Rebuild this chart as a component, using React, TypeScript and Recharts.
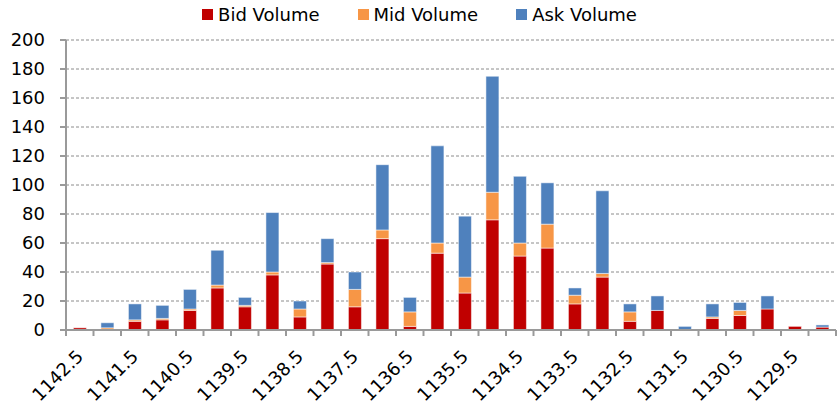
import React from 'react';
import { BarChart, Bar, XAxis, YAxis, CartesianGrid } from 'recharts';

const prices = [
    '1142.5', '1142', '1141.5', '1141', '1140.5', '1140', '1139.5', '1139',
    '1138.5', '1138', '1137.5', '1137', '1136.5', '1136', '1135.5', '1135',
    '1134.5', '1134', '1133.5', '1133', '1132.5', '1132', '1131.5', '1131',
    '1130.5', '1130', '1129.5', '1129',
];
const bidVolume = [1.5, 0, 6, 7, 13.5, 29, 16, 38, 9, 45.5, 16, 63, 2.5, 53, 25.5, 76, 51, 56.5, 18, 36.5, 6, 13.5, 0, 8, 10, 14.5, 2.5, 2];
const midVolume = [0, 1.5, 1, 1, 1, 2, 1, 2, 5.5, 1, 12, 6, 10, 7, 11, 19, 9, 16.5, 6, 2.5, 6.5, 0, 0, 1, 3.5, 0, 0, 0];
const askVolume = [0, 3.5, 11, 9, 13.5, 24, 5.5, 41, 5.5, 16.5, 12, 45, 10, 67, 42, 80, 46, 28.5, 5, 57, 5.5, 10, 2.5, 9, 5.5, 9, 0, 1.5];
const yTicks = [0, 20, 40, 60, 80, 100, 120, 140, 160, 180, 200];

const data = prices.map((label, i) => ({
    label,
    bid: bidVolume[i],
    mid: midVolume[i],
    ask: askVolume[i],
}));

const W = 839;
const H = 405;
const LEFT = 66;
const RIGHT = 3;
const BAND = (W - LEFT - RIGHT) / prices.length;
const FONT = '"DejaVu Sans", Verdana, sans-serif';

const legendItems = [
    { name: 'Bid Volume', color: '#C00000' },
    { name: 'Mid Volume', color: '#F79646' },
    { name: 'Ask Volume', color: '#4F81BD' },
];

function PriceTick(props: any) {
    const { x, y, index } = props;
    const last = index === prices.length - 1;
    const tx = x - 5;
    const ty = y + 18;
    return (
        <g>
            <line x1={x - BAND / 2} y1={y} x2={x - BAND / 2} y2={y + 6} stroke="#9a9a9a" strokeWidth={2} />
            {last && <line x1={x + BAND / 2} y1={y} x2={x + BAND / 2} y2={y + 6} stroke="#9a9a9a" strokeWidth={2} />}
            {index % 2 === 0 && (
                <text
                    x={tx}
                    y={ty}
                    transform={`rotate(-45, ${tx}, ${ty})`}
                    textAnchor="end"
                    dominantBaseline="hanging"
                    fontSize={18}
                    fontFamily={FONT}
                    fill="#000"
                >
                    {props.payload.value}
                </text>
            )}
        </g>
    );
}

function TopLegend() {
    return (
        <div style={{ position: 'absolute', top: 4, left: 0, width: W, display: 'flex', justifyContent: 'center', fontFamily: FONT, fontSize: 18, color: '#000' }}>
            {legendItems.map((it) => (
                <div key={it.name} style={{ display: 'flex', alignItems: 'center', margin: '0 19px' }}>
                    <span style={{ width: 11, height: 11, background: it.color, marginRight: 5, display: 'inline-block' }} />
                    <span>{it.name}</span>
                </div>
            ))}
        </div>
    );
}

export default function App() {
    return (
        <div style={{ position: 'absolute', left: 0, top: 0, width: W, height: H, background: '#fff' }}>
            <BarChart
                width={W}
                height={H}
                data={data}
                margin={{ top: 40, right: RIGHT, left: 0, bottom: 0 }}
                barCategoryGap="27%"
            >
                <CartesianGrid vertical={false} strokeDasharray="3 2" stroke="#8c8c8c" />
                <XAxis
                    dataKey="label"
                    interval={0}
                    tickLine={false}
                    tickSize={0}
                    tickMargin={0}
                    height={75}
                    axisLine={{ stroke: '#9a9a9a', strokeWidth: 2 }}
                    tick={<PriceTick />}
                />
                <YAxis
                    width={LEFT}
                    domain={[0, 200]}
                    ticks={yTicks}
                    interval={0}
                    tickSize={6}
                    tickMargin={15}
                    axisLine={{ stroke: '#9a9a9a', strokeWidth: 2 }}
                    tickLine={{ stroke: '#9a9a9a', strokeWidth: 2 }}
                    tick={{ fill: '#000', fontSize: 18, fontFamily: FONT }}
                />
                <Bar dataKey="bid" name="Bid Volume" stackId="v" fill="#C00000" stroke="rgba(255,255,255,0.5)" isAnimationActive={false} />
                <Bar dataKey="mid" name="Mid Volume" stackId="v" fill="#F79646" stroke="rgba(255,255,255,0.5)" isAnimationActive={false} />
                <Bar dataKey="ask" name="Ask Volume" stackId="v" fill="#4F81BD" stroke="rgba(255,255,255,0.5)" isAnimationActive={false} />
            </BarChart>
            <TopLegend />
        </div>
    );
}
